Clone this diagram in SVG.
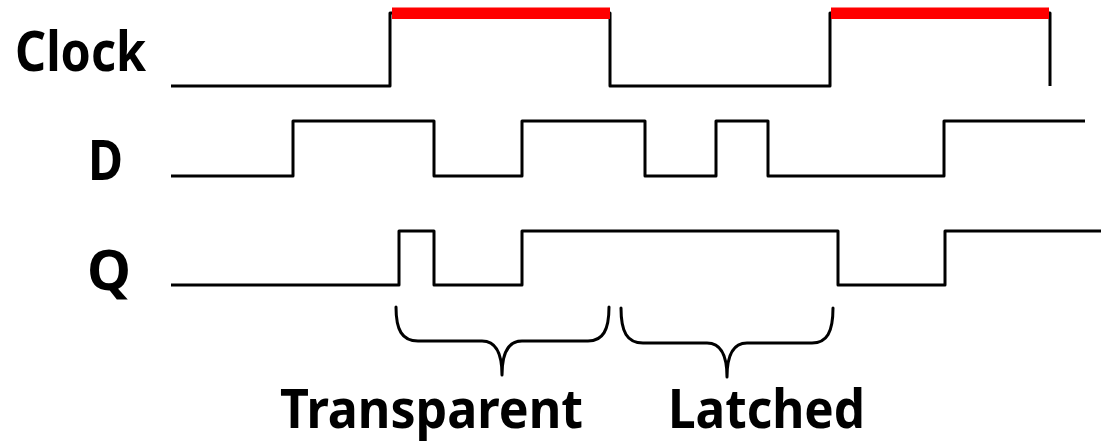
<svg xmlns="http://www.w3.org/2000/svg" width="1101" height="445" viewBox="0 0 1101 445">
  <style>
    .wave { fill: none; stroke: #000; stroke-width: 3; stroke-linejoin: round; stroke-linecap: butt; }
    .brace { fill: none; stroke: #000; stroke-width: 3; stroke-linecap: round; stroke-linejoin: round; }
    .hi { fill: #ff0000; }
    .label { font-family: "Comic Sans MS", "Noto Sans", "DejaVu Sans", sans-serif; font-weight: bold; font-size: 56px; fill: #000; }
    .phase { font-size: 54px; }
  </style>
  <rect width="1101" height="445" fill="#fff"/>

  <!-- signal names -->
  <g id="label-clock"><text class="label" x="15" y="71" textLength="131" lengthAdjust="spacingAndGlyphs">Clock</text></g>
  <g id="label-d"><text class="label" x="88" y="180" textLength="35" lengthAdjust="spacingAndGlyphs">D</text></g>
  <g id="label-q"><text class="label" x="87" y="290" textLength="44" lengthAdjust="spacingAndGlyphs">Q</text></g>

  <!-- waveforms -->
  <g id="clock">
    <path class="wave" d="M171,86 H390 V13 H610 V86 H830 V13 H1050 V86"/>
    <rect class="hi" x="392" y="7.5" width="218" height="11.5"/>
    <rect class="hi" x="831" y="7.5" width="218" height="11.5"/>
  </g>
  <g id="d">
    <path class="wave" d="M171,176 H293 V121 H434 V176 H522 V121 H645 V176 H716 V121 H768 V176 H944 V121 H1085"/>
  </g>
  <g id="q">
    <path class="wave" d="M171,285 H399 V231 H434 V285 H522 V231 H838 V285 H945 V231 H1101"/>
  </g>

  <!-- phase braces -->
  <g id="transparent">
    <path class="brace" d="M396,307 C396,330 402,341 418,341 L482,341 C495,341 502,352 502,375 C502,352 509,341 522,341 L588,341 C603,341 609,330 609,307"/>
    <text class="label phase" x="280" y="428" textLength="303" lengthAdjust="spacingAndGlyphs">Transparent</text>
  </g>
  <g id="latched">
    <path class="brace" d="M621,308 C621,332 627,343 643,343 L707,343 C720,343 727,354 727,377 C727,354 734,343 747,343 L812,343 C827,343 833,332 833,308"/>
    <text class="label phase" x="668" y="428" textLength="197" lengthAdjust="spacingAndGlyphs">Latched</text>
  </g>
</svg>
